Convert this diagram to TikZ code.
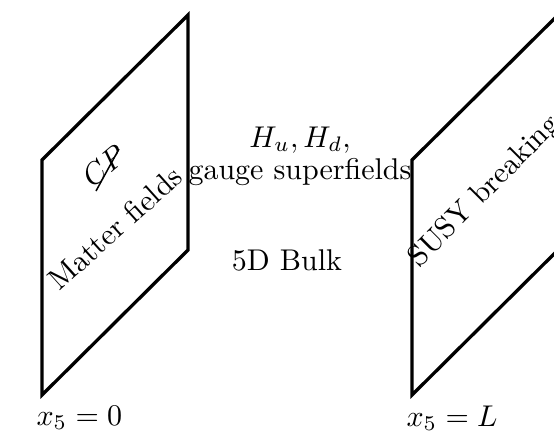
\documentclass[tikz,border=0pt]{standalone}
\usepackage{amsmath,amssymb}
\usetikzlibrary{positioning}
\tikzset{brane/.style={line width=1.1pt}}
\begin{document}
\begin{tikzpicture}[x=0.3333pt,y=0.3333pt,font=\normalsize]
  \useasboundingbox (0,0) rectangle (554,432);
  \clip (0,0) rectangle (554,432);
  % the two branes
  \foreach \x in {42,412}{
    \draw[brane] (\x,37) -- (\x,272) -- ++(146,145) -- ++(0,-235) -- cycle;}
  \node[rotate=40] (cp) at (104,266) {$CP$};
  \draw[line width=0.5pt] ([shift={(-8,-25)}]cp.center) -- ([shift={(15,17)}]cp.center);
  \node[rotate=42] (matter) at (115,204) {Matter fields};
  \node (higgs) at (300,292) {$H_u,H_d,$};
  \node (gauge) at (300,260) {gauge superfields};
  \node (bulk) at (287,172) {5D Bulk};
  \node[rotate=45] (susy) at (485,240) {SUSY breaking};
  \node[anchor=west] (xzero) at (26,14) {$x_5=0$};
  \node[anchor=west] (xL) at (396,14) {$x_5=L$};
\end{tikzpicture}
\end{document}
